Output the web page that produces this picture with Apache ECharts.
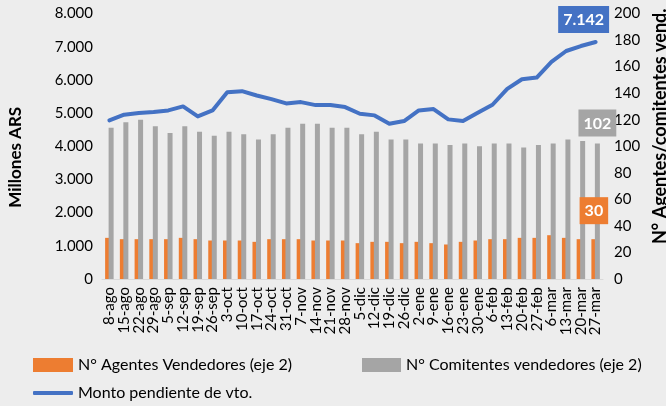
<!DOCTYPE html>
<html>
<head>
<meta charset="utf-8">
<script src="https://cdn.jsdelivr.net/npm/echarts@6/dist/echarts.min.js"></script>
<style>
  html, body { margin: 0; padding: 0; background: #ededed; }
  #chart { width: 666px; height: 406px; }
</style>
</head>
<body>
<div id="chart"></div>
<script>
const categories = [
  "8-ago", "15-ago", "22-ago", "29-ago", "5-sep", "12-sep", "19-sep", "26-sep",
  "3-oct", "10-oct", "17-oct", "24-oct", "31-oct", "7-nov", "14-nov", "21-nov",
  "28-nov", "5-dic", "12-dic", "19-dic", "26-dic", "2-ene", "9-ene", "16-ene",
  "23-ene", "30-ene", "6-feb", "13-feb", "20-feb", "27-feb", "6-mar", "13-mar",
  "20-mar", "27-mar"
];

// N° Agentes Vendedores (eje 2)
const agentes = [
  31, 30, 30, 30, 30, 31, 30, 29, 29, 29, 28, 30, 30, 30, 29, 29,
  29, 27, 28, 28, 27, 28, 27, 26, 28, 29, 30, 30, 31, 31, 33, 31,
  30, 30
];

// N° Comitentes vendedores (eje 2)
const comitentes = [
  114, 118, 120, 115, 110, 115, 111, 108, 111, 109, 105, 109, 114, 117, 117, 114,
  114, 109, 111, 105, 105, 102, 102, 101, 102, 100, 102, 102, 99, 101, 102, 105,
  104, 102
];

// Monto pendiente de vto. (millones ARS)
const monto = [
  4780, 4950, 5000, 5030, 5080, 5200, 4900, 5080, 5630, 5660, 5530, 5420, 5290, 5330, 5240, 5240,
  5180, 4980, 4930, 4680, 4760, 5080, 5120, 4810, 4760, 5010, 5250, 5730, 6020, 6070, 6540, 6870,
  7020, 7142
];

const FONT = "Lato";
const BLUE = "#4472c4";
const ORANGE = "#ed7d31";
const GREY = "#a5a5a5";
const last = categories.length - 1;

const fmtMiles = v => String(v).replace(/\B(?=(\d{3})+(?!\d))/g, ".");

// only the last point carries a boxed label
const withLastLabel = arr =>
  arr.map((v, i) => (i === last ? { value: v, label: { show: true } } : v));

const boxLabel = color => ({
  color: "#fff",
  fontFamily: FONT,
  fontWeight: "bold",
  fontSize: 16,
  backgroundColor: color,
  padding: [4, 5, 3, 5],
  lineHeight: 20,
});

const legendText = { fontFamily: FONT, fontSize: 16, color: "#000" };

const chart = echarts.init(document.getElementById("chart"), null, { renderer: "canvas" });

chart.setOption({
  backgroundColor: "#ededed",
  animation: false,
  textStyle: { fontFamily: FONT },
  grid: { left: 102, right: 63, top: 13.5, bottom: 127, outerBoundsMode: "none" },
  legend: [
    {
      left: 33, top: 357, padding: 0,
      icon: "rect", itemWidth: 40, itemHeight: 14,
      textStyle: legendText,
      data: ["N° Agentes Vendedores (eje 2)"],
    },
    {
      left: 362, top: 357, padding: 0,
      icon: "rect", itemWidth: 39, itemHeight: 14,
      textStyle: legendText,
      data: ["N° Comitentes vendedores (eje 2)"],
    },
    {
      left: 33, top: 385, padding: 0,
      icon: "roundRect", itemWidth: 40, itemHeight: 4,
      textStyle: legendText,
      data: ["Monto pendiente de vto."],
    },
  ],
  xAxis: {
    type: "category",
    data: categories,
    boundaryGap: true,
    axisLine: { lineStyle: { color: "#d9d9d9", width: 1 } },
    axisTick: { alignWithLabel: true, length: 4, lineStyle: { color: "#d9d9d9" } },
    axisLabel: {
      interval: 0, rotate: 90, margin: 8,
      fontFamily: FONT, fontSize: 15, color: "#000",
    },
  },
  yAxis: [
    {
      type: "value",
      min: 0, max: 8000, interval: 1000,
      name: "Millones ARS",
      nameLocation: "middle",
      nameGap: 78,
      nameTextStyle: { fontFamily: FONT, fontWeight: "bold", fontSize: 17, color: "#000", padding: [0, 22, 0, 0] },
      axisLine: { show: false },
      axisTick: { show: false },
      splitLine: { show: false },
      axisLabel: { margin: 9, fontFamily: FONT, fontSize: 15, color: "#000", formatter: fmtMiles },
    },
    {
      type: "value",
      min: 0, max: 200, interval: 20,
      name: "N° Agentes/comitentes vend.",
      nameLocation: "middle",
      nameGap: 44,
      nameTextStyle: { fontFamily: FONT, fontWeight: "bold", fontSize: 18, color: "#000", padding: [0, 0, 0, 40] },
      axisLine: { show: false },
      axisTick: { show: false },
      splitLine: { show: false },
      axisLabel: { margin: 11, fontFamily: FONT, fontSize: 15, color: "#000" },
    },
  ],
  series: [
    {
      name: "N° Agentes Vendedores (eje 2)",
      type: "bar",
      yAxisIndex: 1,
      barWidth: 5,
      barGap: "-30%",
      itemStyle: { color: ORANGE },
      label: Object.assign({ position: "top", distance: 15 }, boxLabel(ORANGE)),
      data: withLastLabel(agentes),
    },
    {
      name: "N° Comitentes vendedores (eje 2)",
      type: "bar",
      yAxisIndex: 1,
      barWidth: 5,
      itemStyle: { color: GREY },
      label: Object.assign({ position: "top", distance: 7 }, boxLabel(GREY)),
      data: withLastLabel(comitentes),
    },
    {
      name: "Monto pendiente de vto.",
      type: "line",
      yAxisIndex: 0,
      z: 5,
      showSymbol: true,
      symbol: "circle",
      symbolSize: 2,
      lineStyle: { color: BLUE, width: 4, cap: "round", join: "round" },
      itemStyle: { color: BLUE },
      label: Object.assign({ position: "top", distance: 8, offset: [-12, 0], formatter: p => fmtMiles(p.value) }, boxLabel(BLUE)),
      data: withLastLabel(monto),
    },
  ],
});
</script>
</body>
</html>
